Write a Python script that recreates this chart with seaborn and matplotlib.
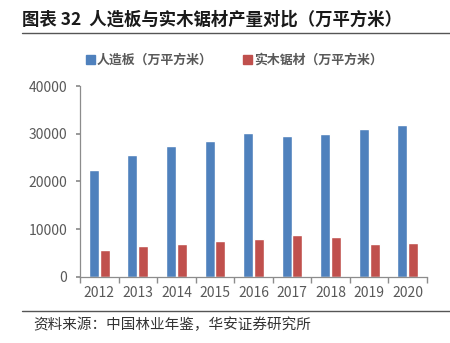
import matplotlib
matplotlib.use("Agg")
import matplotlib.pyplot as plt
import seaborn as sns
import pandas as pd
from matplotlib.lines import Line2D
from matplotlib.patches import Rectangle

years = ["2012", "2013", "2014", "2015", "2016", "2017", "2018", "2019", "2020"]
panel = [22350, 25550, 27420, 28400, 30080, 29520, 29940, 30920, 31750]
lumber = [5600, 6440, 6860, 7490, 7840, 8680, 8400, 6790, 7140]
series_names = ["人造板（万平方米）", "实木锯材（万平方米）"]
yticks = [0, 10000, 20000, 30000, 40000]

sns.set_theme(style="white")
plt.rcParams['font.family'] = ['Noto Sans CJK SC', 'DejaVu Sans']

df = pd.DataFrame({
    "year": years * 2,
    "value": panel + lumber,
    "series": [series_names[0]] * len(years) + [series_names[1]] * len(years),
})

fig = plt.figure(figsize=(4.5, 3.43), dpi=100)
ax = fig.add_axes([80/450, 1-276.7/343, (427-80)/450, (276.7-86)/343])

palette = {series_names[0]: "#4F81BD", series_names[1]: "#C0504D"}
sns.barplot(data=df, x="year", y="value", hue="series", palette=palette,
            width=0.56, gap=0.08, ax=ax, legend=False, saturation=1)

ax.set_ylim(0, 40000)
ax.set_yticks(yticks)
ax.set_yticklabels([str(v) for v in yticks])
ax.set_xlim(-0.5, len(years) - 0.5)
ax.set_xlabel("")
ax.set_ylabel("")
for s in ["top", "right"]:
    ax.spines[s].set_visible(False)
for s in ["left", "bottom"]:
    ax.spines[s].set_color("#8C8C8C")
    ax.spines[s].set_linewidth(0.9)
ax.tick_params(axis="both", colors="#595959", labelsize=10)
ax.tick_params(axis="y", length=3, color="#8C8C8C", pad=6, left=True)
ax.tick_params(axis="x", length=0, pad=7)
ax.set_xticks(range(len(years)))
ax.set_xticklabels(years)
ax.set_xticks([i + 0.5 for i in range(-1, len(years))], minor=True)
ax.tick_params(axis="x", which="minor", length=4, color="#8C8C8C", bottom=True)

# title
fig.text(22/450, 1-20/343, "图表 32  人造板与实木锯材产量对比（万平方米）",
         fontsize=12.5, fontweight="bold", color="#1a1a1a", va="center", ha="left")
fig.add_artist(Line2D([22/450, 1.0], [1-33/343, 1-33/343], color="#555555", lw=1.0))

# legend
lx = [86, 243]
for x0, name, col in zip(lx, series_names, ["#4F81BD", "#C0504D"]):
    fig.add_artist(Rectangle((x0/450, 1-64/343), 9/450, 9/343, color=col,
                             transform=fig.transFigure))
    fig.text((x0+11)/450, 1-60/343, name, fontsize=9.3, fontweight="bold",
             color="#595959", va="center", ha="left")

# bottom line and source
fig.add_artist(Line2D([22/450, 1.0], [1-311/343, 1-311/343], color="#555555", lw=1.0))
fig.text(33/450, 1-325/343, "资料来源：中国林业年鉴，华安证券研究所",
         fontsize=10.5, color="#333333", va="center", ha="left")

fig.savefig("out.png", dpi=100)
